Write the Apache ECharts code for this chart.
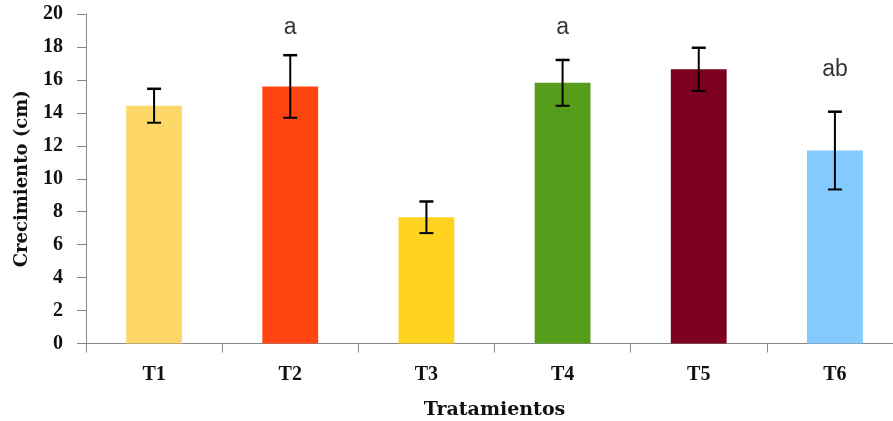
<!DOCTYPE html>
<html>
<head>
<meta charset="utf-8">
<script src="https://cdn.jsdelivr.net/npm/echarts@6/dist/echarts.min.js"></script>
<style>html,body{margin:0;padding:0;background:#fff;}#c{width:893px;height:421px;}</style>
</head>
<body>
<div id="c"></div>
<script>
const categories = ['T1', 'T2', 'T3', 'T4', 'T5', 'T6'];
const means = [14.43, 15.6, 7.66, 15.82, 16.64, 11.71];
const errors = [1.03, 1.9, 0.96, 1.39, 1.31, 2.36];
const letters = ['', 'a', '', 'a', '', 'ab'];
const letterHeights = [null, 19.2, null, 19.2, null, 16.6];
const colors = ['#FDD868', '#FF4511', '#FFD320', '#579D1C', '#7E0021', '#83CAFF'];
const yTicks = [0, 2, 4, 6, 8, 10, 12, 14, 16, 18, 20];

const chart = echarts.init(document.getElementById('c'), null, {renderer: 'canvas'});
const axisColor = '#878787';
const serif = '"Liberation Serif", "Times New Roman", serif';
const wideSerif = '"DejaVu Serif", serif';

chart.setOption({
  animation: false,
  backgroundColor: '#fff',
  grid: {left: 86, top: 14, width: 817, height: 329.5, containLabel: false, outerBoundsMode: 'none'},
  xAxis: {
    type: 'category',
    data: categories,
    name: 'Tratamientos',
    nameLocation: 'middle',
    nameGap: 57,
    nameTextStyle: {fontFamily: wideSerif, fontWeight: 'bold', fontSize: 19, color: '#111'},
    axisLine: {lineStyle: {color: axisColor, width: 1}},
    axisTick: {show: true, length: 9, lineStyle: {color: axisColor}},
    axisLabel: {margin: 21, fontFamily: serif, fontWeight: 'bold', fontSize: 20, color: '#111'}
  },
  yAxis: {
    type: 'value',
    min: yTicks[0],
    max: yTicks[yTicks.length - 1],
    interval: 2,
    name: 'Crecimiento (cm)',
    nameLocation: 'middle',
    nameGap: 55,
    nameTextStyle: {fontFamily: wideSerif, fontWeight: 'bold', fontSize: 18, color: '#111'},
    splitLine: {show: false},
    axisLine: {show: true, lineStyle: {color: axisColor, width: 1}},
    axisTick: {show: true, length: 9, lineStyle: {color: axisColor}},
    axisLabel: {margin: 23, fontFamily: serif, fontWeight: 'bold', fontSize: 20, color: '#111'}
  },
  series: [
    {
      type: 'bar',
      barWidth: '41%',
      data: means.map((v, i) => ({value: v, itemStyle: {color: colors[i]}}))
    },
    {
      type: 'custom',
      z: 10,
      data: means.map((m, i) => [i, m - errors[i], m + errors[i]]),
      renderItem: function (params, api) {
        const x = api.value(0);
        const lo = api.coord([x, api.value(1)]);
        const hi = api.coord([x, api.value(2)]);
        const hw = 7;
        const st = {stroke: '#000', lineWidth: 2};
        return {
          type: 'group',
          children: [
            {type: 'line', shape: {x1: hi[0], y1: hi[1], x2: lo[0], y2: lo[1]}, style: st},
            {type: 'line', shape: {x1: hi[0] - hw, y1: hi[1], x2: hi[0] + hw, y2: hi[1]}, style: {stroke: '#000', lineWidth: 2.5}},
            {type: 'line', shape: {x1: lo[0] - hw, y1: lo[1], x2: lo[0] + hw, y2: lo[1]}, style: st}
          ]
        };
      }
    },
    {
      type: 'scatter',
      symbolSize: 0,
      silent: true,
      data: letterHeights.map((h, i) => (h === null ? null : {value: [i, h], label: {formatter: letters[i]}})),
      label: {
        show: true,
        position: 'inside',
        fontFamily: '"Liberation Sans", "Open Sans", sans-serif',
        fontSize: 23,
        color: '#000'
      }
    }
  ]
});
</script>
</body>
</html>
